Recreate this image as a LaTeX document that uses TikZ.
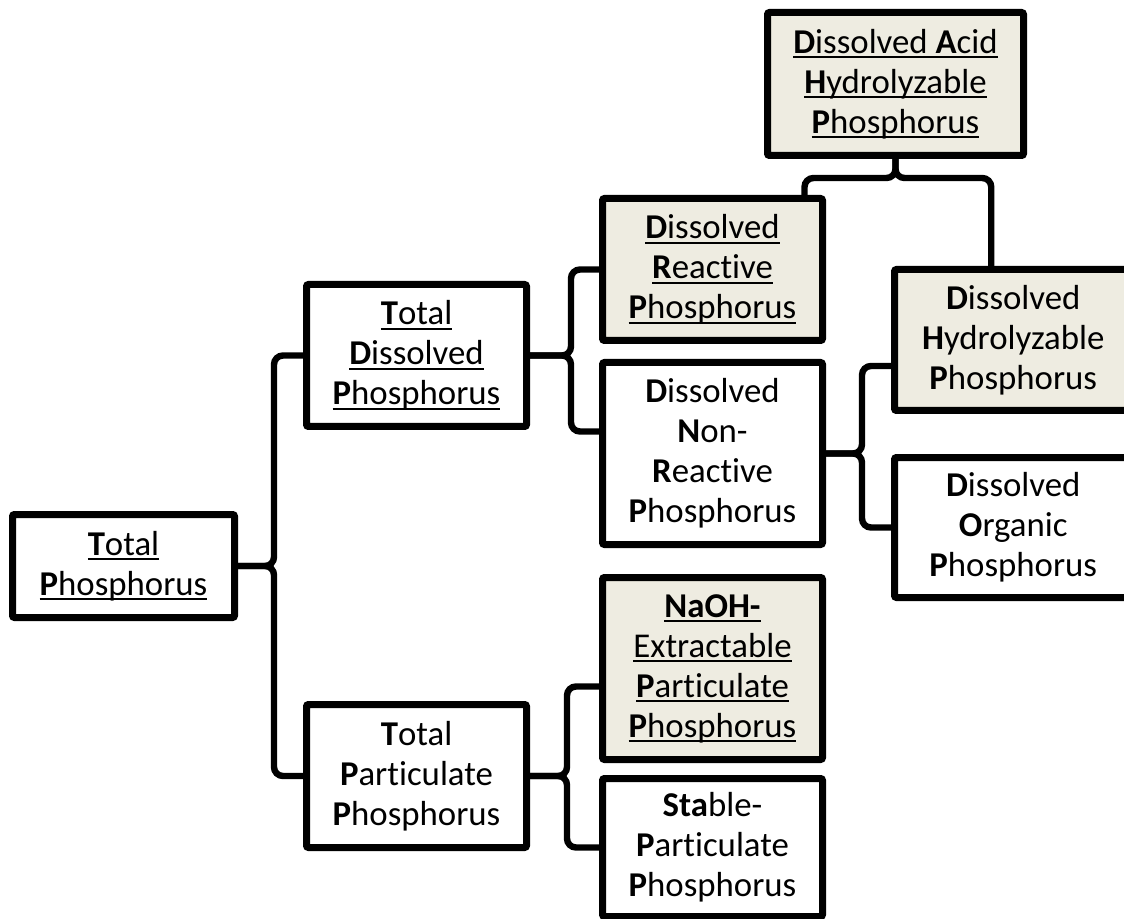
\documentclass[tikz,border=0pt]{standalone}
\usepackage{fontspec}
\setmainfont{Carlito}[Ligatures=NoCommon]
\usepackage{xcolor}
\usepackage{tikz}
\definecolor{paper}{HTML}{EEECE1}
\newcommand{\ulline}[1]{\setbox0\hbox{#1}\leavevmode\rlap{\rule[-2.5pt]{\wd0}{0.9pt}}\box0}

\begin{document}
\begin{tikzpicture}[x=0.5pt, y=-0.5pt, font=\fontsize{17.4}{20}\selectfont, box/.style={draw, line width=3.5pt, rounded corners=1pt, align=center, inner sep=0pt, minimum width=110pt}, shadedbox/.style={box, fill=paper}, conn/.style={line width=3.2pt, rounded corners=4.5pt}]
  \path[use as bounding box, fill=white] (0,0) rectangle (1124,919);
  \node[box, minimum width=111pt, minimum height=51.5pt] (tp) at (123.5,566) {\ulline{\textbf{T}otal}\\\ulline{\textbf{P}hosphorus}};
  \node[box, minimum height=71pt] (tdp) at (416.5,355.5) {\ulline{\textbf{T}otal}\\\ulline{\textbf{D}issolved}\\\ulline{\textbf{P}hosphorus}};
  \node[box, minimum height=71.5pt] (tpp) at (416.5,776) {\textbf{T}otal\\\textbf{P}articulate\\\textbf{P}hosphorus};
  \node[shadedbox, minimum height=71pt] (drp) at (712.5,269.5) {\ulline{\textbf{D}issolved}\\\ulline{\textbf{R}eactive}\\\ulline{\textbf{P}hosphorus}};
  \node[box, minimum height=91pt] (dnrp) at (712.5,453.5) {\textbf{D}issolved\\\textbf{N}on-\\\textbf{R}eactive\\\textbf{P}hosphorus};
  \node[shadedbox, minimum height=91pt] (naoh) at (712.5,668.5) {\ulline{\textbf{NaOH-}}\\\ulline{Extractable}\\\ulline{\textbf{P}articulate}\\\ulline{\textbf{P}hosphorus}};
  \node[box, minimum height=69pt] (spp) at (712.5,847.5) {\textbf{Sta}ble-\\\textbf{P}articulate\\\textbf{P}hosphorus};
  \node[shadedbox, minimum width=128pt, minimum height=71.5pt] (dahp) at (895.5,84) {\ulline{\textbf{D}issolved \textbf{A}cid}\\\ulline{\textbf{H}ydrolyzable}\\\ulline{\textbf{P}hosphorus}};
  \node[shadedbox, minimum width=118.75pt, minimum height=70.5pt] (dhp) at (1013.25,340) {\textbf{D}issolved\\\textbf{H}ydrolyzable\\\textbf{P}hosphorus};
  \node[box, minimum width=118.75pt, minimum height=70pt] (dop) at (1013.25,527.5) {\textbf{D}issolved\\\textbf{O}rganic\\\textbf{P}hosphorus};
  \draw[conn] (tp.east) -- ++(36,0) |- (tdp.west);
  \draw[conn] (tp.east) -- ++(36,0) |- (tpp.west);
  \draw[conn] (tdp.east) -- ++(41,0) |- (drp.west);
  \draw[conn] (tdp.east) -- ++(41,0) |- ([yshift=11pt]dnrp.west);
  \draw[conn] (dnrp.east) -- ++(36,0) |- ([yshift=-13pt]dhp.west);
  \draw[conn] (dnrp.east) -- ++(36,0) |- (dop.west);
  \draw[conn] (tpp.east) -- ++(37,0) |- ([yshift=-9pt]naoh.west);
  \draw[conn] (tpp.east) -- ++(37,0) |- (spp.west);
  \draw[conn] (dahp.south) -- ++(0,19) -| ([xshift=46pt]drp.north);
  \draw[conn] (dahp.south) -- ++(0,19) -| ([xshift=-11pt]dhp.north);
\end{tikzpicture}
\end{document}
